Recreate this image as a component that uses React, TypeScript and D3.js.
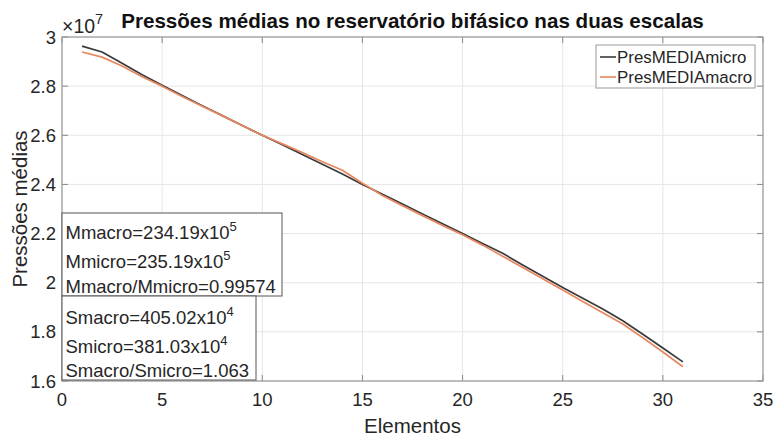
import React from "react";
import * as d3 from "d3";

const elements = d3.range(1, 32);
const presMicro = [
  2.963, 2.939, 2.893, 2.846, 2.804, 2.762, 2.72, 2.68, 2.64, 2.6,
  2.562, 2.522, 2.482, 2.442, 2.4, 2.36, 2.32, 2.28, 2.24, 2.2,
  2.16, 2.12, 2.072, 2.026, 1.981, 1.937, 1.893, 1.845, 1.79, 1.734, 1.678,
];
const presMacro = [
  2.939, 2.918, 2.882, 2.838, 2.8, 2.758, 2.718, 2.68, 2.64, 2.6,
  2.565, 2.53, 2.492, 2.458, 2.405, 2.355, 2.313, 2.273, 2.233, 2.195,
  2.153, 2.108, 2.062, 2.016, 1.97, 1.924, 1.878, 1.832, 1.776, 1.718, 1.658,
];
const xTicks = [0, 5, 10, 15, 20, 25, 30, 35];
const yTicks = [1.6, 1.8, 2, 2.2, 2.4, 2.6, 2.8, 3];
const seriesNames = ["PresMEDIAmicro", "PresMEDIAmacro"];
const seriesColors = ["#3a3a3a", "#e8865e"];
const boxMean = [
  ["Mmacro=234.19x10", "5"],
  ["Mmicro=235.19x10", "5"],
  ["Mmacro/Mmicro=0.99574", ""],
];
const boxStd = [
  ["Smacro=405.02x10", "4"],
  ["Smicro=381.03x10", "4"],
  ["Smacro/Smicro=1.063", ""],
];

const W = 775;
const H = 436;
const L = 62, R = 763, T = 37, B = 381;
const FONT = "'Liberation Sans', Arial, Helvetica, sans-serif";
const TXT = "#262626";

export default function App() {
  const x = d3.scaleLinear().domain([0, 35]).range([L, R]);
  const y = d3.scaleLinear().domain([1.6, 3]).range([B, T]);
  const line = d3
    .line<number>()
    .x((_, i) => x(elements[i]))
    .y((d) => y(d));

  const series = [presMicro, presMacro];

  const renderBox = (
    rows: string[][],
    left: number,
    top: number,
    right: number,
    bottom: number,
    baselines: number[]
  ) => (
    <g>
      <rect x={left} y={top} width={right - left} height={bottom - top} fill="#fff" stroke="#555" strokeWidth={1} />
      {rows.map((r, i) => (
        <text key={i} x={left + 3.5} y={baselines[i]} fontSize={18.5} fill={TXT} fontFamily={FONT}>
          {r[0]}
          {r[1] ? (
            <tspan fontSize={13} dy={-8}>
              {r[1]}
            </tspan>
          ) : null}
        </text>
      ))}
    </g>
  );

  return (
    <svg width={W} height={H} style={{ position: "absolute", left: 0, top: 0, background: "#fff" }} fontFamily={FONT}>
      <rect x={0} y={0} width={W} height={H} fill="#fff" />
      {/* grid */}
      {xTicks.map((t) => (
        <line key={"gx" + t} x1={x(t)} x2={x(t)} y1={T} y2={B} stroke="#e6e6e6" strokeWidth={1} />
      ))}
      {yTicks.map((t) => (
        <line key={"gy" + t} x1={L} x2={R} y1={y(t)} y2={y(t)} stroke="#e6e6e6" strokeWidth={1} />
      ))}
      {/* ticks inside */}
      {xTicks.map((t) => (
        <g key={"tx" + t}>
          <line x1={x(t)} x2={x(t)} y1={B} y2={B - 6} stroke="#888" />
          <line x1={x(t)} x2={x(t)} y1={T} y2={T + 6} stroke="#888" />
        </g>
      ))}
      {yTicks.map((t) => (
        <g key={"ty" + t}>
          <line x1={L} x2={L + 6} y1={y(t)} y2={y(t)} stroke="#888" />
          <line x1={R} x2={R - 6} y1={y(t)} y2={y(t)} stroke="#888" />
        </g>
      ))}
      {/* lines */}
      {series.map((s, i) => (
        <path key={i} d={line(s) || ""} fill="none" stroke={seriesColors[i]} strokeWidth={1.7} strokeLinejoin="round" />
      ))}
      {/* frame */}
      <rect x={L} y={T} width={R - L} height={B - T} fill="none" stroke="#999" strokeWidth={1.2} />
      {/* tick labels */}
      {xTicks.map((t) => (
        <text key={"lx" + t} x={x(t)} y={406} textAnchor="middle" fontSize={18.5} fill={TXT}>
          {t}
        </text>
      ))}
      {yTicks.map((t) => (
        <text key={"ly" + t} x={56} y={y(t) + 6.5} textAnchor="end" fontSize={18.5} fill={TXT}>
          {d3.format("~g")(t)}
        </text>
      ))}
      {/* exponent */}
      <text x={62} y={33} fontSize={19.5} fill={TXT}>
        ×10
        <tspan fontSize={14.5} dy={-9}>7</tspan>
      </text>
      {/* title */}
      <text x={(L + R) / 2} y={28} textAnchor="middle" fontSize={20.6} fontWeight="bold" fill="#111">
        Pressões médias no reservatório bifásico nas duas escalas
      </text>
      {/* axis labels */}
      <text x={(L + R) / 2} y={433} textAnchor="middle" fontSize={20.5} fill={TXT}>
        Elementos
      </text>
      <text transform={`translate(27, ${(T + B) / 2}) rotate(-90)`} textAnchor="middle" fontSize={20.5} fill={TXT}>
        Pressões médias
      </text>
      {/* legend */}
      <rect x={596} y={45} width={159} height={43} fill="#fff" stroke="#999" />
      {seriesNames.map((n, i) => (
        <g key={n}>
          <line x1={600} x2={616} y1={57 + i * 20} y2={57 + i * 20} stroke={seriesColors[i]} strokeWidth={1.6} />
          <text x={617} y={63 + i * 20} fontSize={16.9} fill={TXT}>
            {n}
          </text>
        </g>
      ))}
      {/* annotation boxes */}
      {renderBox(boxMean, 62, 213, 282, 296, [239, 268, 293])}
      {renderBox(boxStd, 62, 296, 256, 380, [324, 353, 377])}
    </svg>
  );
}
